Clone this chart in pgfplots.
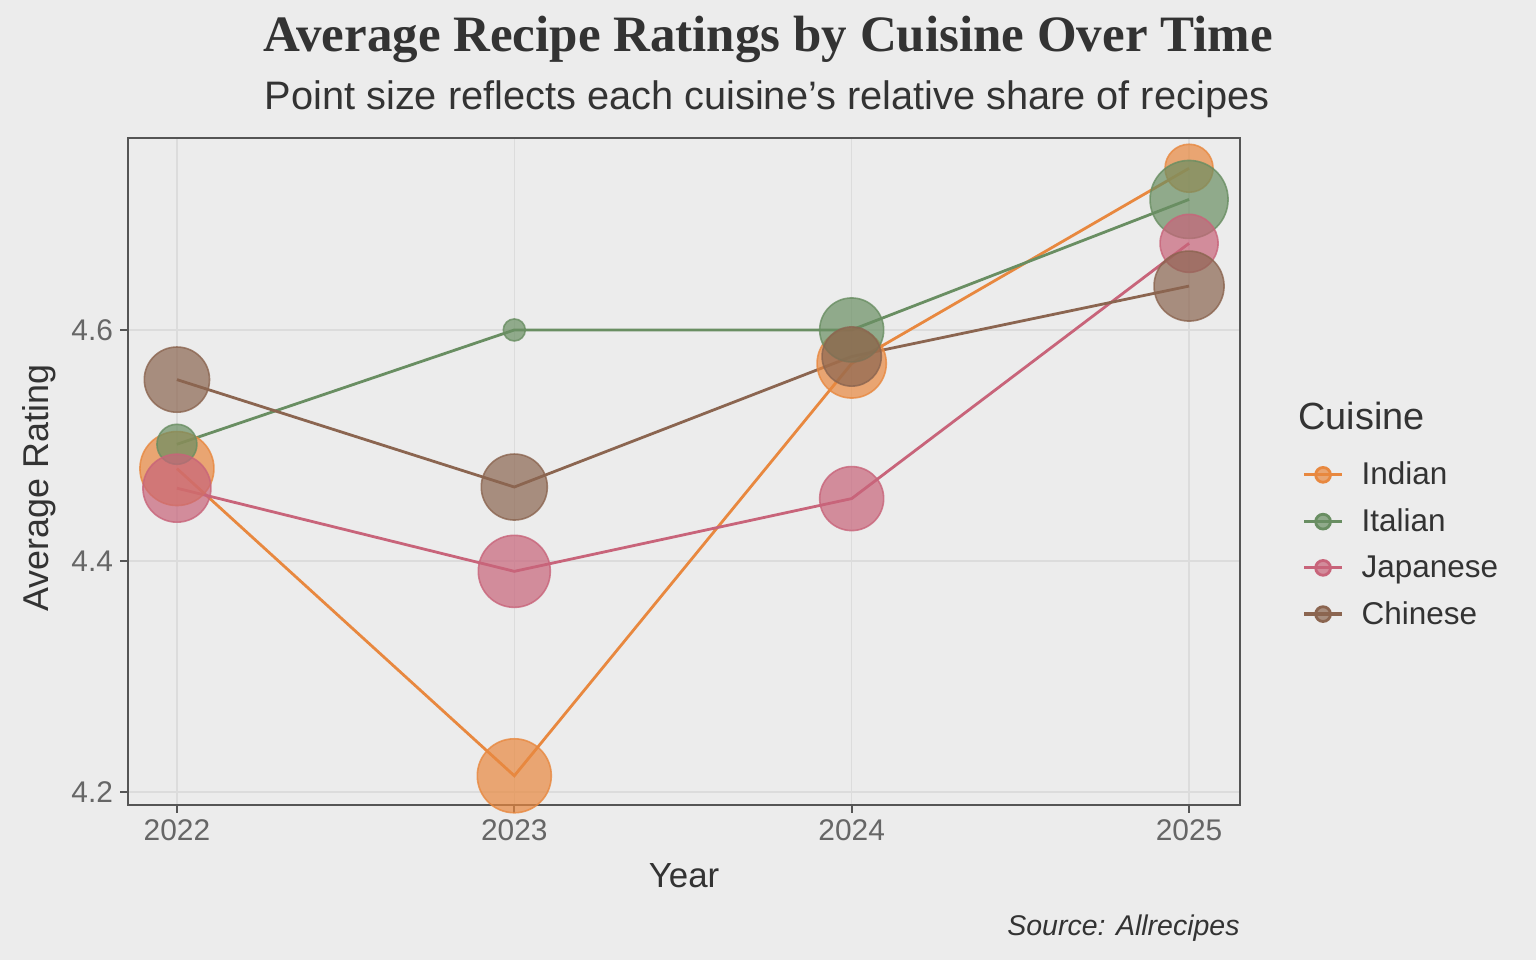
\documentclass[border=0pt]{standalone}
\usepackage{pgfplots}
\usepackage{pgfplotstable}
\pgfplotsset{compat=1.18}
\usepackage{fontspec}
\setmainfont{Liberation Sans}
\newfontfamily\titlefont{Liberation Serif}

\definecolor{bg}{HTML}{ECECEC}
\definecolor{gridc}{HTML}{DCDCDC}
\definecolor{framec}{HTML}{555555}
\definecolor{tickc}{HTML}{666666}
\definecolor{textc}{HTML}{333333}
\definecolor{indian}{HTML}{E8883F}
\definecolor{italian}{HTML}{698E62}
\definecolor{japanese}{HTML}{C8647A}
\definecolor{chinese}{HTML}{8B6550}

% year, average rating, point radius (bp)
\pgfplotstableread{
year rating r
2022 4.480 18.5
2023 4.214 18.5
2024 4.571 17.3
2025 4.740 12.0
}\indian
\pgfplotstableread{
year rating r
2022 4.501 10.0
2023 4.600 5.5
2024 4.600 16.0
2025 4.713 19.5
}\italian
\pgfplotstableread{
year rating r
2022 4.463 17.0
2023 4.391 18.0
2024 4.454 16.0
2025 4.675 14.5
}\japanese
\pgfplotstableread{
year rating r
2022 4.557 16.3
2023 4.464 16.5
2024 4.577 14.8
2025 4.638 17.5
}\chinese

\pgfplotsset{
  bubbles/.style={
    scatter, only marks, mark=*, point meta=y, forget plot,
    scatter/use mapped color={draw=#1, draw opacity=0.8, fill=#1, fill opacity=0.7, line width=0.8bp},
    visualization depends on={\thisrow{r} \as \rr},
    scatter/@pre marker code/.append style={/tikz/mark size=\rr bp},
  },
  trend/.style={
    color=#1, line width=1.4bp, no marks,
    legend image code/.code={
      \draw[line width=1.6bp] (0bp,0bp) -- (19bp,0bp);
      \fill[fill opacity=0.7] (9.5bp,0bp) circle (3.7bp);
    },
  },
}

\begin{document}
\begin{tikzpicture}
\fill[bg] (0,0) rectangle (768bp,480bp);

\begin{axis}[
    at={(64bp,77.5bp)}, anchor=south west,
    scale only axis, width=556bp, height=333.5bp,
    xmin=2021.855, xmax=2025.151,
    ymin=4.1887, ymax=4.7662,
    xtick={2022,2023,2024,2025},
    ytick={4.2,4.4,4.6},
    xticklabel style={/pgf/number format/1000 sep={}},
    yticklabel style={/pgf/number format/fixed, /pgf/number format/precision=1},
    /pgf/number format/assume math mode=true,
    ticklabel style={font=\fontsize{15}{17}\selectfont, text=tickc},
    tick align=outside, xtick pos=bottom, ytick pos=left,
    major tick length=4bp,
    tick style={color=framec, line width=1bp},
    axis line style={color=framec, line width=0.8bp},
    grid=major, major grid style={color=gridc, line width=0.6bp},
    axis background/.style={fill=bg},
    clip=false,
    legend cell align=left,
    legend style={at={(axis description cs:1.0558,0.3906)}, anchor=west,
      draw=none, fill=none, inner sep=0pt,
      font=\fontsize{15.8}{18}\selectfont, text=textc,
      row sep=10.5bp,
      nodes={inner sep=0pt, outer sep=0pt},
      /tikz/every odd column/.append style={column sep=9bp}},
  ]
  \addplot[bubbles=indian] table[x=year, y=rating] \indian;
  \addplot[bubbles=italian] table[x=year, y=rating] \italian;
  \addplot[bubbles=japanese] table[x=year, y=rating] \japanese;
  \addplot[bubbles=chinese] table[x=year, y=rating] \chinese;

  \addplot[trend=indian] table[x=year, y=rating] \indian;
  \addlegendentry{Indian}
  \addplot[trend=italian] table[x=year, y=rating] \italian;
  \addlegendentry{Italian}
  \addplot[trend=japanese] table[x=year, y=rating] \japanese;
  \addlegendentry{Japanese}
  \addplot[trend=chinese] table[x=year, y=rating] \chinese;
  \addlegendentry{Chinese}
\end{axis}

\node[anchor=base, text=textc, font=\titlefont\bfseries\fontsize{25.6}{28}\selectfont]
  at (384bp,454bp) {Average Recipe Ratings by Cuisine Over Time};
\node[anchor=base, text=textc, font=\fontsize{19.95}{22}\selectfont]
  at (383.5bp,425bp) {Point size reflects each cuisine's relative share of recipes};
\node[anchor=base, text=textc, font=\fontsize{17.5}{20}\selectfont]
  at (342bp,36.5bp) {Year};
\node[anchor=base, rotate=90, text=textc, font=\fontsize{18}{20}\selectfont]
  at (24bp,236bp) {Average Rating};
\node[anchor=base west, text=textc, inner sep=0pt, font=\fontsize{19}{22}\selectfont]
  at (649bp,265bp) {Cuisine};
\node[anchor=base east, text=textc, inner sep=0pt, font=\itshape\fontsize{14.3}{16}\selectfont]
  at (620bp,12.5bp) {Source: Allrecipes};
\end{tikzpicture}
\end{document}
